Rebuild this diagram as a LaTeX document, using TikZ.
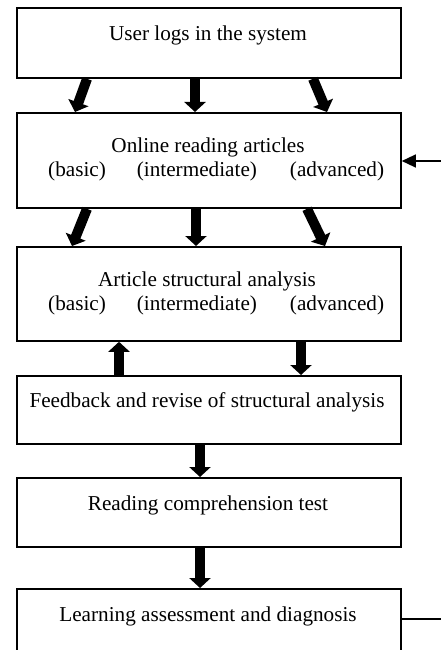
\documentclass[tikz,border=0pt]{standalone}
\usepackage{fontspec}
\setmainfont{Liberation Serif}
\usetikzlibrary{arrows.meta,calc}
\begin{document}
\begin{tikzpicture}[x=1pt,y=-1pt,
  box/.style={draw, line width=1.8pt, minimum width=384pt, inner sep=0pt, anchor=north west},
  txt/.style={inner sep=0pt, anchor=base, font=\fontsize{21.2}{25}\selectfont},
  txtl/.style={inner sep=0pt, anchor=base west, font=\fontsize{21.2}{25}\selectfont},
  fat/.style={line width=10pt, -{Triangle[width=21pt,length=10pt]}},
  thin/.style={line width=1.3pt, -{Triangle[width=13pt,length=14pt]}}]
\useasboundingbox (0,0) rectangle (441,650);
\clip (0,0) rectangle (441,650);
% boxes
\node[box, minimum height=70pt] (b1) at (16,7) {};
\node[box, minimum height=95pt] (b2) at (16,112) {};
\node[box, minimum height=94pt] (b3) at (16,246) {};
\node[box, minimum height=68pt] (b4) at (16,375) {};
\node[box, minimum height=69pt] (b5) at (16,477) {};
\node[box, minimum height=100pt] (b6) at (16,588) {};
% texts
\node[txt] (t1) at (208,41) {User logs in the system};
\node[txt] (t2a) at (208,152) {Online reading articles};
\node[txtl] (t2b) at (48,176) {(basic)\hspace{31pt}(intermediate)\hspace{33pt}(advanced)};
\node[txt] (t3a) at (207,286) {Article structural analysis};
\node[txtl] (t3b) at (48,310) {(basic)\hspace{31pt}(intermediate)\hspace{33pt}(advanced)};
\node[txt] (t4) at (207,407) {Feedback and revise of structural analysis};
\node[txt] (t5) at (208,510) {Reading comprehension test};
\node[txt] (t6) at (208,621) {Learning assessment and diagnosis};
% block arrows
\draw[fat] ($(b1.south west)+(71,0)$) -- ($(b2.north west)+(59,0)$);
\draw[fat] ($(b1.south west)+(179,0)$) -- ($(b2.north west)+(179,0)$);
\draw[fat] ($(b1.south west)+(297,0)$) -- ($(b2.north west)+(311,0)$);
\draw[fat] ($(b2.south west)+(71,0)$) -- ($(b3.north west)+(56,0)$);
\draw[fat] ($(b2.south west)+(180,0)$) -- ($(b3.north west)+(180,0)$);
\draw[fat] ($(b2.south west)+(291,0)$) -- ($(b3.north west)+(309,0)$);
\draw[fat] ($(b4.north west)+(103,0)$) -- ($(b3.south west)+(103,0)$);
\draw[fat] ($(b3.south west)+(285,0)$) -- ($(b4.north west)+(285,0)$);
\draw[fat] ($(b4.south west)+(184,0)$) -- ($(b5.north west)+(184,0)$);
\draw[fat] ($(b5.south west)+(184,0)$) -- ($(b6.north west)+(184,0)$);
% feedback loop
\coordinate (c1) at (460,619);
\coordinate (c2) at (460,161);
\draw[thin] (b6.east |- 0,619) -- (c1) -- (c2) -- (b2.east |- 0,161);
\end{tikzpicture}
\end{document}
